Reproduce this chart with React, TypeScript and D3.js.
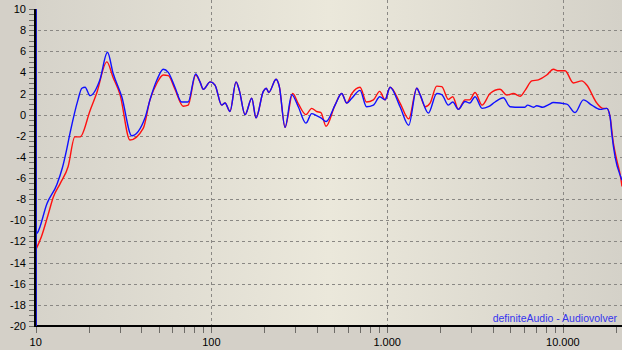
import React from 'react'
import * as d3 from 'd3'

const W = 622
const H = 350

// frequency (Hz), level (dB)
const redCurve: [number, number][] = [
  [10, -12.8], [10.8, -11.5], [11.8, -9.4], [12.6, -7.8], [13.8, -6.5], [15.3, -4.9], [16.7, -2.1],
  [17.9, -2.1], [20.4, 0.4], [22.2, 2.0], [25.4, 5.0], [27.6, 3.5], [30.2, 1.9], [34.4, -2.4],
  [40.9, -1.3], [44.7, 1.4], [49, 3.0], [53.2, 3.75], [56.8, 3.7], [62, 2.4], [69.1, 0.8], [73.7, 0.9],
  [81.3, 3.75], [86.1, 3.1], [89.9, 2.4], [98.4, 3.1], [104.8, 2.8], [114.4, 0.9], [119.6, 1.1],
  [127.6, 0.3], [138, 3.1], [144.1, 2.3], [155.4, 0.0], [169.6, 1.55], [179.4, -0.3], [197.4, 2.2],
  [205, 2.5], [212, 2.1], [233.2, 3.35], [243.5, 2.65], [262.4, -1.2], [290, 2.0], [312, 1.05],
  [345, 0.0], [372, 0.6], [397, 0.3], [420, 0.2], [449, -1.1], [505, 0.9], [551, 2.0], [589, 1.1],
  [629, 2.0], [701, 2.6], [763, 1.2], [835, 1.4], [907, 2.2], [973, 1.4], [1039, 2.6], [1184, 1.1],
  [1327, -0.4], [1474, 2.5], [1539, 1.9], [1643, 0.75], [1755, 1.1], [1916, 2.7], [2045, 2.65],
  [2230, 1.45], [2362, 1.7], [2542, 0.5], [2776, 1.4], [2950, 1.4], [3164, 2.1], [3468, 0.9],
  [3851, 2.0], [4391, 2.4], [4795, 1.85], [5229, 2.0], [5708, 1.75], [6095, 2.3], [6653, 3.2],
  [7255, 3.3], [8096, 3.75], [8829, 4.3], [9427, 4.15], [10292, 4.15], [11475, 3.0], [12815, 3.2],
  [13677, 2.8], [15597, 1.1], [16874, 0.6], [17781, 0.6], [18561, -0.2], [19383, -2.7],
  [20268, -4.3], [21360, -6.0], [21700, -6.8],
]

const blueCurve: [number, number][] = [
  [10, -11.3], [10.2, -11.2], [11.6, -8.4], [13.2, -6.6], [14.2, -5.0], [15.0, -3.3], [15.7, -1.7],
  [17.4, 1.4], [18.3, 2.5], [19.1, 2.6], [20.4, 1.8], [23.2, 3.3], [25.6, 5.9], [27.6, 3.9],
  [30.9, 1.7], [35.2, -2.0], [41.9, -0.3], [44.7, 1.4], [49, 3.3], [53.2, 4.3], [56.8, 4.0],
  [62, 2.6], [67.6, 1.2], [73.7, 1.2], [81.3, 3.85], [86.1, 3.1], [89.9, 2.4], [98.4, 3.1],
  [104.8, 2.8], [114.4, 0.9], [119.6, 1.1], [127.6, 0.3], [138, 3.1], [144.1, 2.3], [155.4, 0.0],
  [169.6, 1.55], [179.4, -0.3], [197.4, 2.2], [205, 2.5], [212, 2.1], [233.2, 3.35], [243.5, 2.65],
  [262.4, -1.2], [286.4, 1.9], [312, 0.75], [345, -0.8], [372, 0.1], [397, -0.1], [420, -0.3],
  [449, -0.65], [505, 0.9], [551, 2.0], [589, 1.1], [629, 1.55], [701, 2.3], [763, 0.75], [835, 0.9],
  [907, 1.7], [973, 1.4], [1039, 2.6], [1184, 0.75], [1327, -1.0], [1474, 2.5], [1539, 1.9],
  [1716, 0.15], [1916, 2.0], [2045, 1.9], [2230, 0.9], [2362, 1.2], [2542, 0.5], [2776, 1.25],
  [2950, 1.1], [3164, 1.7], [3468, 0.6], [3767, 0.75], [4113, 1.2], [4585, 1.6], [5006, 0.75],
  [5708, 0.7], [6050, 0.7], [6300, 0.9], [6800, 0.7], [7100, 0.85], [7700, 0.7], [8300, 0.95],
  [8829, 1.15], [10524, 1.0], [11733, 0.2], [13086, 1.4], [14603, 0.9], [16286, 0.5], [17781, 0.6],
  [18561, -0.2], [18981, -1.8], [19820, -4.0], [21360, -5.9], [21700, -6.2],
]

const yLabels = [10, 8, 6, 4, 2, 0, -2, -4, -6, -8, -10, -12, -14, -16, -18, -20]
const xLabels = [10, 100, 1000, 10000]
const credit = 'definiteAudio - Audiovolver'

export default function App() {
  const x = d3.scaleLog().domain([10, 21700]).range([35.7, 622])
  const y = d3.scaleLinear().domain([-20, 10]).range([326, 9])

  const line = d3.line<[number, number]>()
    .x(d => x(d[0]))
    .y(d => y(d[1]))
    .curve(d3.curveMonotoneX)

  const de = d3.formatLocale({ decimal: ',', thousands: '.', grouping: [3], currency: ['', ''] })
  const fmt = de.format(',')

  const minorY = d3.range(-20, 10.01, 0.5)
  const minorX = x.ticks().filter(f => f <= 21700)
  const gridY = yLabels.filter(v => v > -20 && v < 10)
  const gridX = xLabels.filter(f => f > 10)
  const dash = '3,3'
  const gridColor = '#8a8884'

  return (
    <svg width={W} height={H}
      style={{ position: 'absolute', left: 0, top: 0, fontFamily: '"Liberation Sans", Arial, sans-serif' }}>
      <defs>
        <linearGradient id="bg" x1="0" x2="1" y1="0" y2="0">
          <stop offset="0" stopColor="#d6d3ca" />
          <stop offset="0.5" stopColor="#ebe8db" />
          <stop offset="1" stopColor="#d4d1c8" />
        </linearGradient>
        <clipPath id="plot">
          <rect x={36} y={0} width={W - 36} height={326} />
        </clipPath>
      </defs>
      <rect width={W} height={H} fill="#d4d0c8" />
      <rect x={36} y={0} width={W - 36} height={326} fill="url(#bg)" />

      {gridY.map(v => (
        <line key={'gy' + v} x1={38} x2={W} y1={Math.round(y(v)) + 0.5} y2={Math.round(y(v)) + 0.5}
          stroke={gridColor} strokeDasharray={dash} />
      ))}
      {gridX.map(f => (
        <line key={'gx' + f} x1={Math.round(x(f)) + 0.5} x2={Math.round(x(f)) + 0.5} y1={0} y2={325}
          stroke={gridColor} strokeDasharray={dash} />
      ))}

      <text x={617} y={322} textAnchor="end" fontSize={10.5} fill="#3535ee">{credit}</text>

      <g clipPath="url(#plot)" fill="none" strokeWidth={1.4} strokeLinejoin="round">
        <path d={line(redCurve) || ''} stroke="#ff1010" />
        <path d={line(blueCurve) || ''} stroke="#1010ff" />
      </g>

      {minorY.map(v => (
        <line key={'ty' + v} x1={29} x2={35} y1={Math.round(y(v)) + 0.5} y2={Math.round(y(v)) + 0.5}
          stroke="#6e6c68" />
      ))}
      {minorX.map(f => (
        <line key={'tx' + f} x1={Math.round(x(f)) + 0.5} x2={Math.round(x(f)) + 0.5} y1={327} y2={333}
          stroke="#6e6c68" />
      ))}

      <line x1={35} x2={W} y1={326} y2={326} stroke="#000" strokeWidth={2} />
      <line x1={35} x2={35} y1={9} y2={327} stroke="#000" strokeWidth={2} />
      <line x1={36.5} x2={36.5} y1={9} y2={326} stroke="#1a1acc" strokeWidth={1} />

      {yLabels.map(v => (
        <text key={'ly' + v} x={26} y={y(v) + 4} textAnchor="end" fontSize={11} fill="#000">{v}</text>
      ))}
      {xLabels.map(f => (
        <text key={'lx' + f} x={x(f)} y={346} textAnchor="middle" fontSize={11} fill="#000">{fmt(f)}</text>
      ))}
    </svg>
  )
}
